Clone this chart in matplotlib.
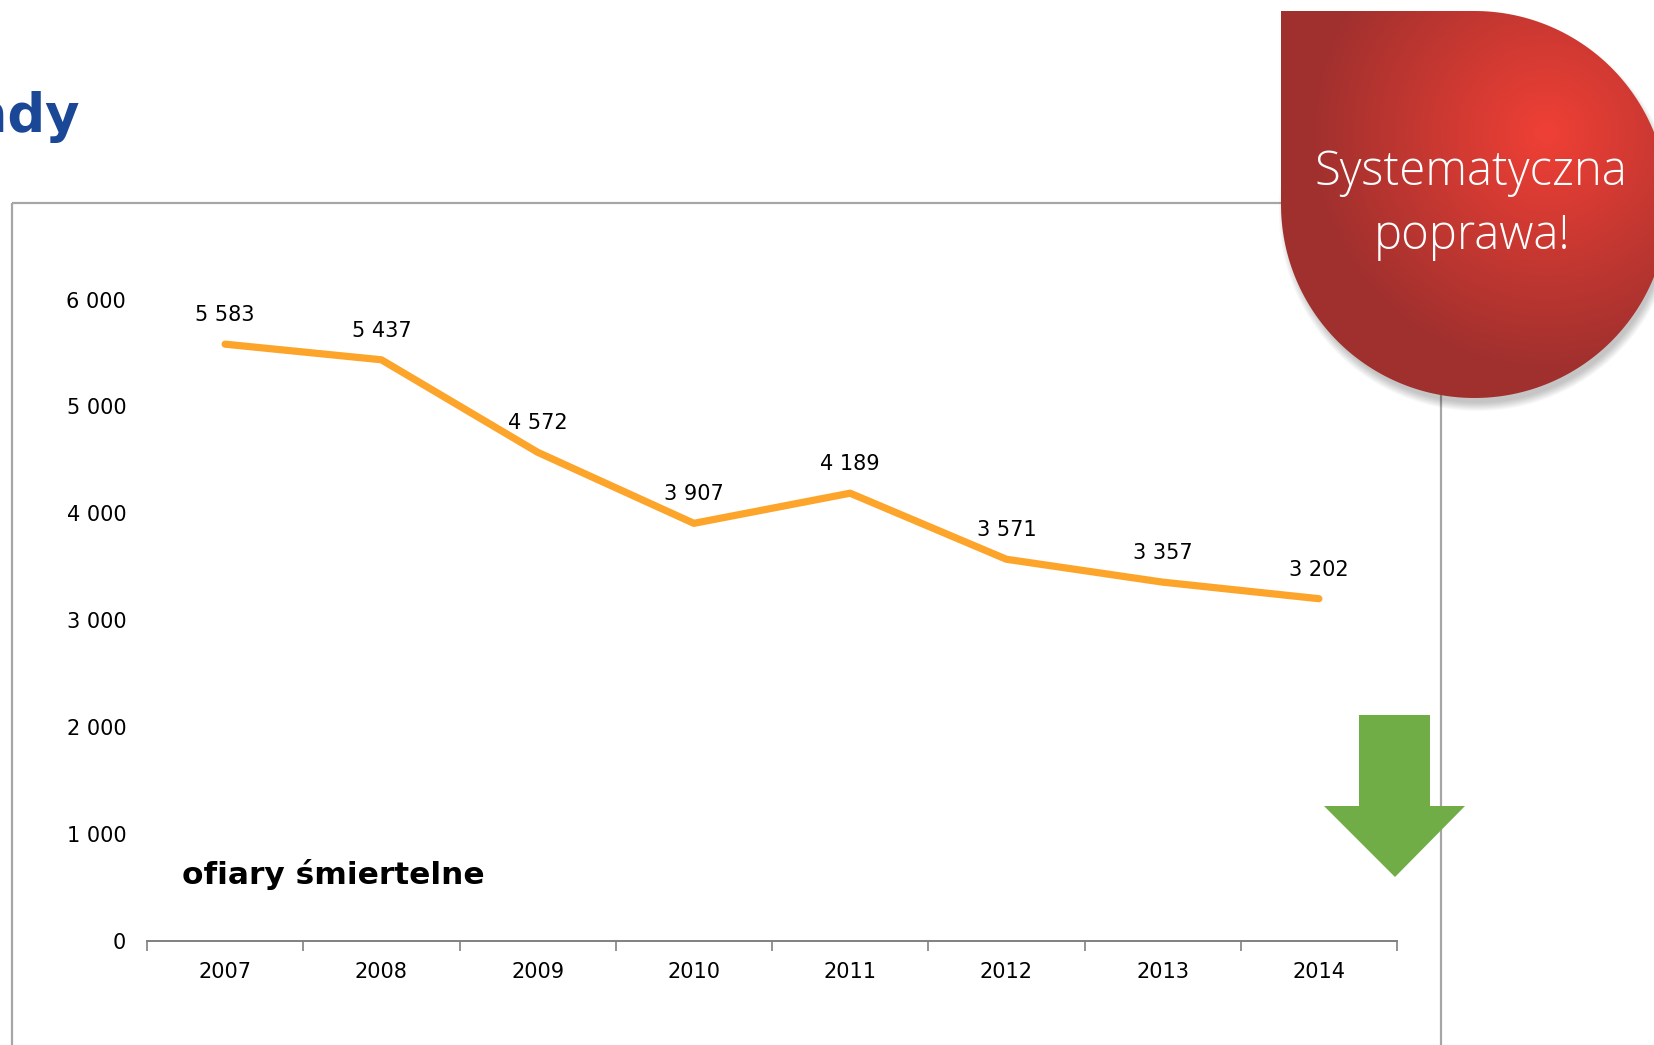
import numpy as np
import matplotlib.pyplot as plt
from matplotlib.path import Path
from matplotlib.patches import PathPatch, Polygon, Rectangle, Circle

years = ["2007", "2008", "2009", "2010", "2011", "2012", "2013", "2014"]
deaths = [5583, 5437, 4572, 3907, 4189, 3571, 3357, 3202]
yticks = [0, 1000, 2000, 3000, 4000, 5000, 6000]

W, H = 1654, 1045
fig = plt.figure(figsize=(W / 100, H / 100), dpi=100)

# overlay in pixel coords for slide decorations
deco = fig.add_axes([0, 0, 1, 1], zorder=0)
deco.set_xlim(0, W)
deco.set_ylim(H, 0)
deco.axis("off")

# chart frame
deco.add_patch(Rectangle((12, 203), 1429, 900, fill=False, ec="#a6a6a6", lw=1.6, zorder=1))

# main chart
ax = fig.add_axes([147 / W, 1 - 941 / H, 1250 / W, (941 - 299.6) / H], zorder=2)
ax.patch.set_alpha(0)
x = np.arange(len(years))
ax.plot(x, deaths, color="#fca52a", lw=5.2, solid_capstyle="round", solid_joinstyle="round", clip_on=False)
for xi, v in zip(x, deaths):
    ax.annotate(f"{v:,}".replace(",", " "), (xi, v), xytext=(0, 21), textcoords="offset points",
                ha="center", va="center", fontsize=15, color="black")

ax.set_xlim(-0.5, len(years) - 0.5)
ax.set_ylim(0, 6000)
ax.set_xticks(np.arange(len(years) + 1) - 0.5)
ax.set_xticklabels([])
ax.set_xticks(x, minor=True)
ax.set_xticklabels(years, minor=True, fontsize=15)
ax.tick_params(axis="x", which="major", length=7, width=1.2, color="#808080", direction="out")
ax.tick_params(axis="x", which="minor", length=0, pad=15)
ax.set_yticks(yticks)
ax.set_yticklabels([f"{v:,}".replace(",", " ") for v in yticks], fontsize=15)
ax.tick_params(axis="y", length=0, pad=15)
for s in ["top", "right", "left"]:
    ax.spines[s].set_visible(False)
ax.spines["bottom"].set_color("#808080")
ax.spines["bottom"].set_linewidth(1.4)

fig.text(182 / W, 1 - 875 / H, "ofiary śmiertelne", fontsize=22.5, fontweight="bold",
         ha="left", va="center", color="black")

# cut-off slide title
fig.text(80 / W, 1 - 132 / H, "Trendy", fontsize=38, fontweight="bold", color="#1a4796",
         ha="right", va="baseline")

# green arrow
arrow = Polygon([(1359, 715), (1430, 715), (1430, 806), (1465, 806), (1395, 877),
                 (1324, 806), (1359, 806)], closed=True, fc="#70ad47", ec="none", zorder=2)
deco.add_patch(arrow)

# red teardrop badge
cx, cy, r = 1474.5, 204.5, 193.5
left, top = cx - r, cy - r
t = np.radians(np.linspace(-90, 180, 200))
pts = [(left, top)] + list(zip(cx + r * np.cos(t), cy + r * np.sin(t))) + [(left, top)]
path = Path(pts, closed=True)

# soft shadow, mostly below the badge
for k in range(10):
    deco.add_patch(Circle((cx + 3, cy + 8), r - 3 + k * 0.9, fc="black", ec="none",
                          alpha=0.025, zorder=3))

gx = np.linspace(left, cx + r, 300)
gy = np.linspace(top, cy + r, 300)
GX, GY = np.meshgrid(gx, gy)
d = np.clip(np.hypot(GX - 1547, GY - 133) / 235, 0, 1)
c0 = np.array([0.94, 0.25, 0.21])
c1 = np.array([0.63, 0.19, 0.18])
img = c0[None, None, :] * (1 - d[..., None]) + c1[None, None, :] * d[..., None]
im = deco.imshow(img, extent=(left, cx + r, cy + r, top), zorder=4, interpolation="bilinear")
clip = PathPatch(path, fc="none", ec="none", transform=deco.transData)
deco.add_patch(clip)
im.set_clip_path(clip)
deco.set_xlim(0, W)
deco.set_ylim(H, 0)

deco.text(1471, 173, "Systematyczna", fontsize=34, color="white", family="Open Sans",
          fontweight="light", ha="center", va="center", zorder=5)
deco.text(1472, 237, "poprawa!", fontsize=34, color="white", family="Open Sans",
          fontweight="light", ha="center", va="center", zorder=5)

fig.savefig("out.png", dpi=100)
